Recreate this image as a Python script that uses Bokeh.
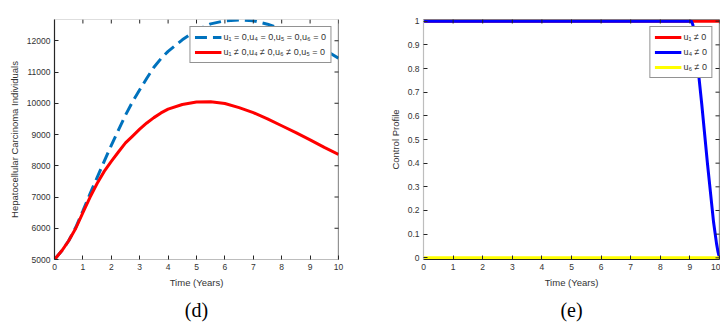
import math
from bokeh.plotting import figure
from bokeh.models import FixedTicker, Range1d, Title, Span
from bokeh.layouts import row
from bokeh.embed import file_html
from bokeh.resources import INLINE

# ---------------- data ----------------
t_years = [0, 0.25, 0.5, 0.75, 1, 1.25, 1.5, 1.75, 2, 2.25, 2.5, 2.75, 3, 3.25, 3.5, 3.75, 4,
           4.5, 5, 5.5, 6, 6.5, 7, 7.5, 8, 8.5, 9, 9.5, 10]
hcc_no_control = [5000, 5270, 5600, 6030, 6560, 7100, 7620, 8140, 8650, 9140, 9620, 10050, 10430,
                  10800, 11150, 11430, 11660, 12030, 12340, 12540, 12640, 12665, 12640, 12530,
                  12370, 12180, 11960, 11720, 11440]
hcc_with_control = [5000, 5270, 5600, 6000, 6500, 6990, 7430, 7820, 8140, 8440, 8730, 8950, 9170,
                    9370, 9540, 9690, 9810, 9960, 10040, 10050, 9990, 9860, 9700, 9500, 9280,
                    9060, 8830, 8590, 8360]

x_ticks = [0, 1, 2, 3, 4, 5, 6, 7, 8, 9, 10]
hcc_y_ticks = [5000, 6000, 7000, 8000, 9000, 10000, 11000, 12000]

u1_t = [0, 10]
u1_vals = [1, 1]
u4_t = [0, 1, 2, 3, 4, 5, 6, 7, 8, 9, 9.05, 9.1, 9.15, 9.2, 9.3, 9.4, 9.5, 9.6, 9.7, 9.8, 9.9, 9.95, 10]
u4_vals = [1, 1, 1, 1, 1, 1, 1, 1, 1, 1, 1, 0.985, 0.94, 0.89, 0.77, 0.65, 0.52, 0.39, 0.27, 0.15,
           0.06, 0.025, 0]
u6_t = [0, 10]
u6_vals = [0, 0]

ctrl_y_ticks = [0, 0.1, 0.2, 0.3, 0.4, 0.5, 0.6, 0.7, 0.8, 0.9, 1]
ctrl_y_labels = ["0", "0.1", "0.2", "0.3", "0.4", "0.5", "0.6", "0.7", "0.8", "0.9", "1"]

legend_d = ["u\u2081 = 0,u\u2084 = 0,u\u2085 = 0,u\u2086 = 0",
            "u\u2081 \u2260 0,u\u2084 \u2260 0,u\u2086 \u2260 0,u\u2085 = 0"]
legend_e = ["u\u2081 \u2260 0", "u\u2084 \u2260 0", "u\u2086 \u2260 0"]

FONT = "Liberation Sans"
TXT = "#333333"
DARK = "#262626"
LIGHT = "#bdbdbd"


def style_axis(ax, ticks, line_color):
    ax.ticker = FixedTicker(ticks=ticks)
    ax.major_tick_in = 4
    ax.major_tick_out = 0
    ax.minor_tick_in = 0
    ax.minor_tick_out = 0
    ax.major_tick_line_color = DARK
    ax.axis_line_color = line_color
    ax.axis_line_width = 1.2
    ax.major_label_text_font = FONT
    ax.major_label_text_font_size = "8.5px"
    ax.major_label_text_color = TXT
    ax.major_label_standoff = 4
    ax.axis_label_text_font = FONT
    ax.axis_label_text_font_size = "9.5px"
    ax.axis_label_text_font_style = "normal"
    ax.axis_label_text_color = TXT
    ax.axis_label_standoff = 4


def box_edges(p, xt, yt, top_color, right_color):
    # top / right frame lines with inward tick marks (MATLAB "box on")
    xr, yr = p.x_range, p.y_range
    p.add_layout(Span(location=yr.end, dimension="width", line_color=top_color, line_width=1.2))
    p.add_layout(Span(location=xr.end, dimension="height", line_color=right_color, line_width=1.2))
    p.scatter(xt, [yr.end] * len(xt), marker="dash", angle=math.pi / 2, size=8,
              line_color=DARK, line_width=1)
    p.scatter([xr.end] * len(yt), yt, marker="dash", size=8, line_color=DARK, line_width=1)


def style_legend(lg):
    lg.location = "top_right"
    lg.margin = 7
    lg.padding = 4
    lg.spacing = 3
    lg.glyph_width = 27
    lg.glyph_height = 12
    lg.label_height = 12
    lg.label_standoff = 2
    lg.label_text_font = FONT
    lg.label_text_font_size = "9px"
    lg.label_text_color = TXT
    lg.border_line_color = DARK
    lg.border_line_width = 1
    lg.background_fill_color = "white"
    lg.background_fill_alpha = 1


def caption(p, text):
    p.add_layout(Title(text=text, align="center", text_font="Liberation Serif",
                       text_font_size="20px", text_font_style="normal",
                       text_color="black", standoff=12), "below")


# ---------------- (d) ----------------
p1 = figure(width=360, height=326, x_range=Range1d(0, 10), y_range=Range1d(5000, 12680),
            output_backend="svg", toolbar_location=None,
            min_border_left=54, min_border_right=22, min_border_top=8, min_border_bottom=67)
p1.outline_line_color = None
p1.grid.visible = False
p1.background_fill_color = "white"
p1.border_fill_color = "white"

p1.line(t_years, hcc_no_control, line_color="#0072BD", line_width=3, line_dash="12 6",
        legend_label=legend_d[0])
p1.line(t_years, hcc_with_control, line_color="#FF0000", line_width=3,
        legend_label=legend_d[1])

style_axis(p1.xaxis[0], x_ticks, LIGHT)
style_axis(p1.yaxis[0], hcc_y_ticks, DARK)
p1.xaxis.axis_label = "Time (Years)"
p1.yaxis.axis_label = "Hepatocellular Carcinoma Individuals"
box_edges(p1, x_ticks, hcc_y_ticks, LIGHT, DARK)
style_legend(p1.legend[0])
caption(p1, "(d)")

# ---------------- (e) ----------------
p2 = figure(width=360, height=326, x_range=Range1d(0, 10), y_range=Range1d(-0.0071, 1.0071),
            output_backend="svg", toolbar_location=None,
            min_border_left=63, min_border_right=1, min_border_top=19, min_border_bottom=65)
p2.outline_line_color = None
p2.grid.visible = False
p2.background_fill_color = "white"
p2.border_fill_color = "white"

p2.line(u1_t, u1_vals, line_color="#FF0000", line_width=3, legend_label=legend_e[0])
p2.line(u4_t, u4_vals, line_color="#0000FF", line_width=3, legend_label=legend_e[1])
p2.line(u6_t, u6_vals, line_color="#FFFF00", line_width=3, legend_label=legend_e[2])

style_axis(p2.xaxis[0], x_ticks, DARK)
style_axis(p2.yaxis[0], ctrl_y_ticks, LIGHT)
p2.yaxis[0].major_label_overrides = dict(zip(ctrl_y_ticks, ctrl_y_labels))
p2.xaxis.axis_label = "Time (Years)"
p2.yaxis.axis_label = "Control Profile"
box_edges(p2, x_ticks, ctrl_y_ticks, DARK, DARK)
style_legend(p2.legend[0])
caption(p2, "(e)")

layout = row(p1, p2)
open("out.html", "w").write(file_html(layout, INLINE))
